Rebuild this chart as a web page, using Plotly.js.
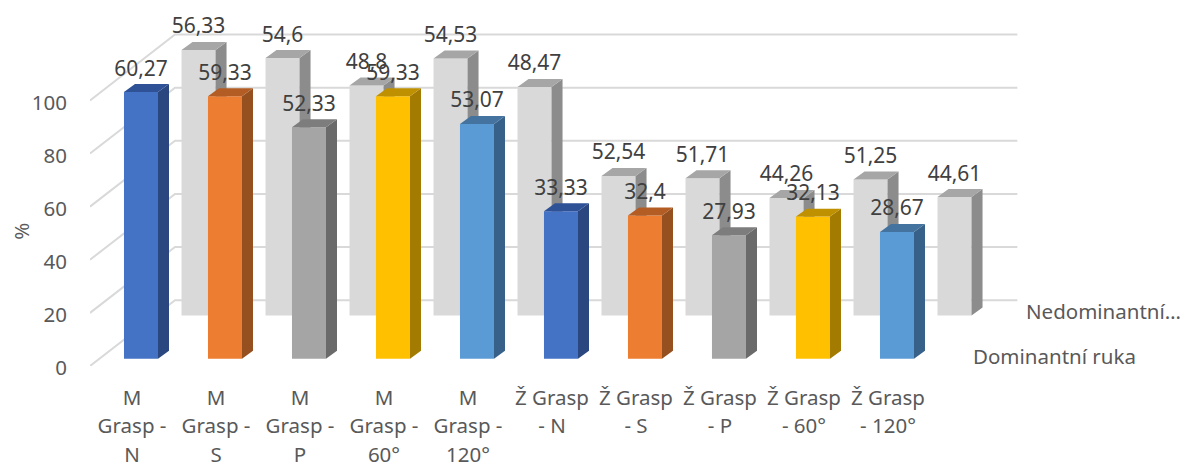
<!DOCTYPE html>
<html>
<head>
<meta charset="utf-8">
<script src="https://cdn.plot.ly/plotly-3.0.1.min.js"></script>
<style>html,body{margin:0;padding:0;background:#fff}</style>
</head>
<body>
<div id="chart" style="width:1183px;height:464px"></div>
<script>
// Tick labels and categories
const categories = ['M<br>Grasp -<br>N', 'M<br>Grasp -<br>S', 'M<br>Grasp -<br>P', 'M<br>Grasp -<br>60°', 'M<br>Grasp -<br>120°',
  'Ž Grasp<br>- N', 'Ž Grasp<br>- S', 'Ž Grasp<br>- P', 'Ž Grasp<br>- 60°', 'Ž Grasp<br>- 120°'];
const yTicks = [0, 20, 40, 60, 80, 100];
const seriesNames = ['Dominantní ruka', 'Nedominantní…'];

// Stated values for each hand
const dominant = [60.27, 59.33, 52.33, 59.33, 53.07, 33.33, 32.4, 27.93, 32.13, 28.67];
const nonDominant = [56.33, 54.6, 48.8, 54.53, 48.47, 52.54, 51.71, 44.26, 51.25, 44.61];

// Conversion from stated value to percent height on the axis
const dominantToPercent = [100 / 60, 100 / 60, 100 / 60, 100 / 60, 100 / 60, 100 / 60, 100 / 60, 100 / 60, 100 / 60, 100 / 60];
const nonDominantToPercent = [100 / 56.33, 100 / 56.33, 100 / 56.33, 100 / 56.33, 100 / 56.33, 1, 1, 1, 1, 1];

// Colours: [front, side, top]
const cycle = [
  ['#4472C4', '#2A4780', '#2F5296'],
  ['#ED7D31', '#96501F', '#B35C24'],
  ['#A5A5A5', '#6A6A6A', '#7D7D7D'],
  ['#FFC000', '#A37B00', '#BF9000'],
  ['#5B9BD5', '#38618A', '#44739F']
];
const greyRow = ['#D9D9D9', '#8C8C8C', '#A6A6A6'];

// Oblique projection of the box, in slot units across and percent units up
const XMAX = 13.012, YMIN = 0, YMAX = 137.8;
const barWidth = 0.405;
const barDepthX = 0.131, barDepthY = 3;
const wallDepthX = 1.012, wallDepthY = 24.8, wallEnd = 11.04;
const labelLift = 8.2;
const front = { offset: 0.607, floor: 2.7 };
const back = { offset: 1.292, floor: 19 };

const noHover = { hoverinfo: 'skip', showlegend: false };

// Closed polygons for one colour group, separated by gaps
function polygons(list, color, xa, ya) {
  const x = [], y = [];
  list.forEach(p => { p.forEach(q => { x.push(q[0]); y.push(q[1]); }); x.push(null); y.push(null); });
  return Object.assign({ type: 'scatter', mode: 'lines', x, y, fill: 'toself', fillcolor: color,
    line: { width: 0, color }, xaxis: xa, yaxis: ya }, noHover);
}

// One row of columns: front faces as bars, side and top faces as polygons
function row(values, factors, place, colorOf, xa, ya) {
  const xs = values.map((_, i) => i + place.offset);
  const heights = values.map((v, i) => v * factors[i]);
  const out = [Object.assign({ type: 'bar', x: xs, y: heights, base: values.map(() => place.floor), width: barWidth,
    marker: { color: values.map((_, i) => colorOf(i)[0]), line: { width: 0 } }, xaxis: xa, yaxis: ya }, noHover)];
  const groups = new Map();
  values.forEach((_, i) => {
    const c = colorOf(i), xl = xs[i] - barWidth / 2, xr = xs[i] + barWidth / 2;
    const bottom = place.floor, top = place.floor + heights[i];
    if (!groups.has(c)) groups.set(c, { side: [], top: [] });
    const g = groups.get(c);
    g.side.push([[xr, bottom], [xr + barDepthX, bottom + barDepthY], [xr + barDepthX, top + barDepthY], [xr, top], [xr, bottom]]);
    g.top.push([[xl, top], [xl + barDepthX, top + barDepthY], [xr + barDepthX, top + barDepthY], [xr, top], [xl, top]]);
  });
  groups.forEach((g, c) => {
    out.push(polygons(g.side, c[1], xa, ya));
    out.push(polygons(g.top, c[2], xa, ya));
  });
  return { traces: out, xs, tops: heights.map(h => h + place.floor) };
}

// Side wall and back wall gridlines
const gridX = [], gridY = [];
yTicks.forEach(v => {
  gridX.push(0, wallDepthX, wallEnd, null);
  gridY.push(v, v + wallDepthY, v + wallDepthY, null);
});
const grid = Object.assign({ type: 'scatter', mode: 'lines', x: gridX, y: gridY,
  line: { color: '#D9D9D9', width: 2 }, xaxis: 'x', yaxis: 'y' }, noHover);

const backRow = row(nonDominant, nonDominantToPercent, back, () => greyRow, 'x', 'y');
const frontRow = row(dominant, dominantToPercent, front, i => cycle[i % 5], 'x2', 'y2');

function valueLabels(r, values) {
  return Object.assign({ type: 'scatter', mode: 'text', x: r.xs, y: r.tops.map(t => t + labelLift),
    text: values.map(v => String(v).replace('.', ',')), textposition: 'middle center',
    textfont: { family: 'Noto Sans, Open Sans, sans-serif', size: 21, color: '#404040' },
    cliponaxis: false, xaxis: 'x2', yaxis: 'y2' }, noHover);
}

const labelFont = { family: 'Noto Sans, Open Sans, sans-serif', size: 20.5, color: '#595959' };

const layout = {
  width: 1183, height: 464,
  margin: { l: 90, r: 0, t: 0, b: 97.5, pad: 0 },
  paper_bgcolor: '#fff', plot_bgcolor: 'rgba(0,0,0,0)',
  showlegend: false, barmode: 'overlay',
  xaxis: { range: [0, XMAX], tickmode: 'array', tickvals: categories.map((_, i) => i + 0.5), ticktext: categories,
    showgrid: false, zeroline: false, showline: false, ticks: '', tickangle: 0, tickfont: labelFont, ticklabelstandoff: 17, fixedrange: true },
  yaxis: { range: [YMIN, YMAX], tickmode: 'array', tickvals: yTicks, ticktext: yTicks.map(String),
    showgrid: false, zeroline: false, showline: false, ticks: '', tickfont: labelFont, ticklabelstandoff: 22, ticklabelshift: 2, fixedrange: true },
  xaxis2: { range: [0, XMAX], overlaying: 'x', visible: false, fixedrange: true },
  yaxis2: { range: [YMIN, YMAX], overlaying: 'y', visible: false, fixedrange: true },
  annotations: [
    { text: '%', xref: 'paper', yref: 'paper', x: -0.0631, y: 0.367, xanchor: 'center', yanchor: 'middle', textangle: -90, showarrow: false, font: labelFont },
    { text: seriesNames[0], xref: 'x', yref: 'y', x: 10.49, y: front.floor + 1, xanchor: 'left', showarrow: false, font: labelFont },
    { text: seriesNames[1], xref: 'x', yref: 'y', x: 11.12, y: back.floor + 1.8, xanchor: 'left', showarrow: false, font: labelFont }
  ]
};

const traces = [grid].concat(backRow.traces, frontRow.traces,
  [valueLabels(backRow, nonDominant), valueLabels(frontRow, dominant)]);

Plotly.newPlot('chart', traces, layout, { displayModeBar: false, staticPlot: true }).then(() => {
  // Open up the line spacing of the multi-line category labels
  document.querySelectorAll('.xtick tspan.line').forEach(t => {
    const dy = parseFloat(t.getAttribute('dy'));
    if (dy > 0) t.setAttribute('dy', (dy * 1.4 / 1.3) + 'em');
  });
});
</script>
</body>
</html>
